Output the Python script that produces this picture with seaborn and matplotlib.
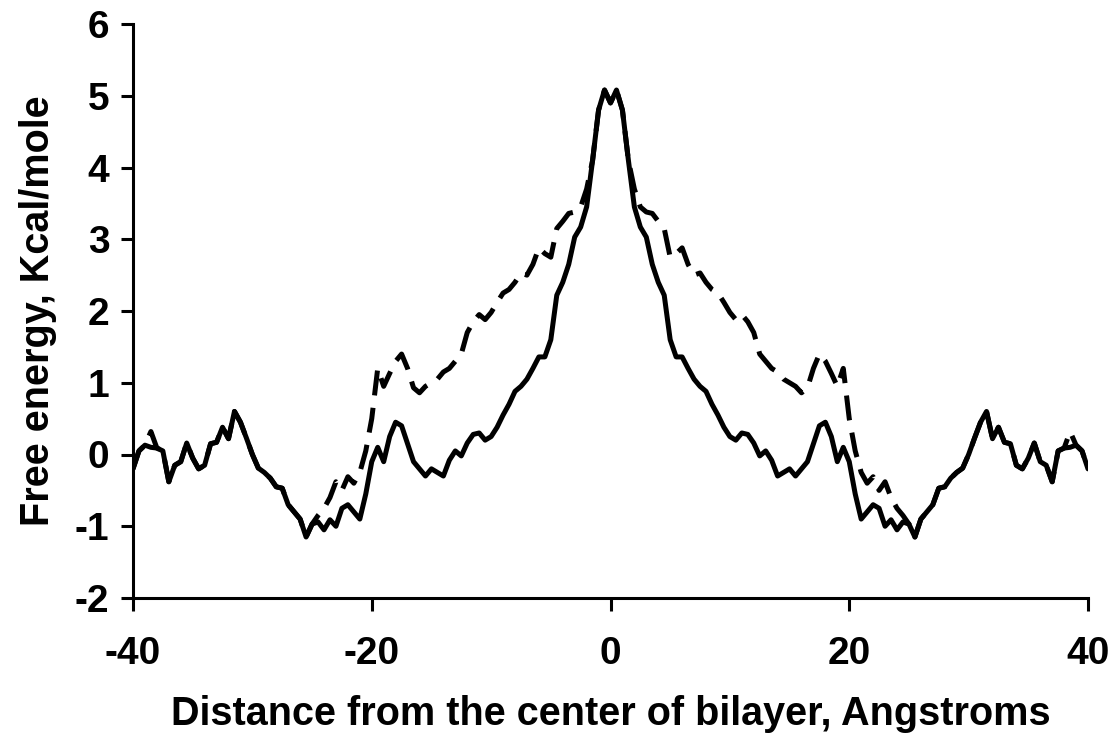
import numpy as np
import pandas as pd
import matplotlib
matplotlib.use("Agg")
import matplotlib.pyplot as plt
import seaborn as sns

# Position along the bilayer normal (Angstroms)
distance = np.arange(-40.0, 40.0 + 0.25, 0.5)

# Free-energy profile, solid curve (kcal/mol)
energy_solid = [
    -0.20, 0.05, 0.13, 0.10, 0.09, 0.05, -0.38, -0.15, -0.10, 0.16,
    -0.05, -0.20, -0.15, 0.15, 0.17, 0.38, 0.22, 0.60, 0.45, 0.23,
    0.00, -0.19, -0.25, -0.33, -0.45, -0.47, -0.70, -0.80, -0.90, -1.15,
    -0.97, -0.94, -1.05, -0.91, -1.00, -0.75, -0.70, -0.80, -0.90, -0.55,
    -0.10, 0.10, -0.10, 0.25, 0.45, 0.40, 0.15, -0.10, -0.20, -0.30,
    -0.20, -0.25, -0.30, -0.08, 0.05, -0.02, 0.16, 0.28, 0.30, 0.20,
    0.25, 0.38, 0.55, 0.70, 0.88, 0.95, 1.05, 1.20, 1.36, 1.36,
    1.60, 2.22, 2.40, 2.65, 3.03, 3.17, 3.45, 4.10, 4.80, 5.08,
    4.90,
    5.08, 4.80, 4.10, 3.45, 3.17, 3.03, 2.65, 2.40, 2.22, 1.60,
    1.36, 1.36, 1.20, 1.05, 0.95, 0.88, 0.70, 0.55, 0.38, 0.25,
    0.20, 0.30, 0.28, 0.16, -0.02, 0.05, -0.08, -0.30, -0.25, -0.20,
    -0.30, -0.20, -0.10, 0.15, 0.40, 0.45, 0.25, -0.10, 0.10, -0.10,
    -0.55, -0.90, -0.80, -0.70, -0.75, -1.00, -0.91, -1.05, -0.94, -0.97,
    -1.15, -0.90, -0.80, -0.70, -0.47, -0.45, -0.33, -0.25, -0.19, 0.00,
    0.23, 0.45, 0.60, 0.22, 0.38, 0.17, 0.15, -0.15, -0.20, -0.05,
    0.16, -0.10, -0.15, -0.38, 0.05, 0.09, 0.10, 0.13, 0.05, -0.20,
]

# Free-energy profile, dashed curve (kcal/mol)
energy_dashed = [
    -0.20, 0.05, 0.13, 0.32, 0.09, 0.05, -0.38, -0.15, -0.10, 0.16,
    -0.05, -0.20, -0.15, 0.15, 0.17, 0.38, 0.22, 0.60, 0.45, 0.23,
    0.00, -0.19, -0.25, -0.33, -0.45, -0.47, -0.70, -0.80, -0.90, -1.15,
    -0.97, -0.85, -0.75, -0.60, -0.38, -0.50, -0.31, -0.40, -0.25, 0.05,
    0.50, 1.20, 0.95, 1.13, 1.30, 1.40, 1.20, 0.93, 0.86, 0.95,
    1.00, 1.05, 1.15, 1.20, 1.30, 1.40, 1.70, 1.85, 1.95, 1.88,
    1.98, 2.12, 2.25, 2.30, 2.40, 2.53, 2.50, 2.65, 2.88, 2.80,
    2.75, 3.15, 3.25, 3.36, 3.38, 3.45, 3.70, 4.10, 4.80, 5.08,
    4.90,
    5.08, 4.80, 4.10, 3.70, 3.45, 3.38, 3.36, 3.25, 3.15, 2.75,
    2.80, 2.88, 2.65, 2.50, 2.53, 2.40, 2.30, 2.25, 2.12, 1.98,
    1.88, 1.95, 1.85, 1.70, 1.40, 1.30, 1.20, 1.15, 1.05, 1.00,
    0.95, 0.86, 0.93, 1.20, 1.40, 1.30, 1.13, 0.95, 1.20, 0.50,
    0.05, -0.25, -0.40, -0.31, -0.50, -0.38, -0.60, -0.75, -0.85, -0.97,
    -1.15, -0.90, -0.80, -0.70, -0.47, -0.45, -0.33, -0.25, -0.19, 0.00,
    0.23, 0.45, 0.60, 0.22, 0.38, 0.17, 0.15, -0.15, -0.20, -0.05,
    0.16, -0.10, -0.15, -0.38, 0.05, 0.09, 0.32, 0.13, 0.05, -0.20,
]

x_ticks = [-40, -20, 0, 20, 40]
y_ticks = [-2, -1, 0, 1, 2, 3, 4, 5, 6]

sns.set_style("white")
plt.rcParams["font.family"] = ["Liberation Sans", "DejaVu Sans"]
plt.rcParams["font.weight"] = "bold"
plt.rcParams["text.color"] = "black"
plt.rcParams["axes.labelcolor"] = "black"
plt.rcParams["xtick.color"] = "black"
plt.rcParams["ytick.color"] = "black"

df = pd.DataFrame({"x": distance, "solid": energy_solid, "dashed": energy_dashed})

fig = plt.figure(figsize=(11.12, 7.38), dpi=100)
ax = fig.add_axes([133 / 1112, 1 - 598 / 738, (1088 - 133) / 1112, (598 - 24) / 738])

sns.lineplot(data=df, x="x", y="dashed", ax=ax, color="black", linewidth=3.6,
             estimator=None)
ax.lines[-1].set_dashes((5, 2.5))
sns.lineplot(data=df, x="x", y="solid", ax=ax, color="black", linewidth=3.6,
             estimator=None)

ax.set_xlim(-40, 40)
ax.set_ylim(-2, 6)
ax.set_xticks(x_ticks)
ax.set_yticks(y_ticks)
ax.set_xticklabels([str(t) for t in x_ticks])
ax.set_yticklabels([str(t) for t in y_ticks])

for side in ("top", "right"):
    ax.spines[side].set_visible(False)
for side in ("left", "bottom"):
    ax.spines[side].set_linewidth(2.2)
    ax.spines[side].set_color("black")

ax.tick_params(axis="both", direction="out", length=9, width=2.2, color="black",
               labelcolor="black", labelsize=28, left=True, bottom=True)
ax.tick_params(axis="x", pad=18)
ax.tick_params(axis="y", pad=8)
for lab in ax.get_xticklabels() + ax.get_yticklabels():
    lab.set_fontweight("bold")

ax.set_xlabel("Distance from the center of bilayer, Angstroms", fontsize=28.5,
              fontweight="bold", color="black", labelpad=17)
ax.set_ylabel("Free energy, Kcal/mole", fontsize=28.5, fontweight="bold",
              color="black", labelpad=13)

fig.savefig("out.png", dpi=100, facecolor="white")
